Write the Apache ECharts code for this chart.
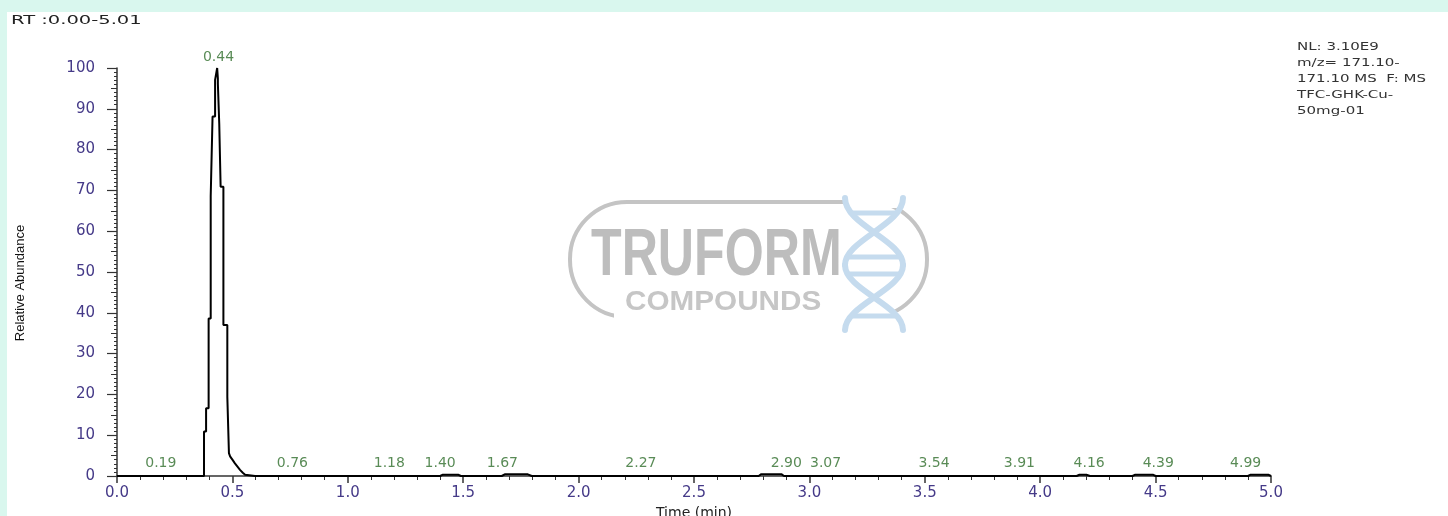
<!DOCTYPE html>
<html>
<head>
<meta charset="utf-8">
<script src="https://cdn.jsdelivr.net/npm/echarts@6/dist/echarts.min.js"></script>
<style>
  html, body { margin: 0; padding: 0; background: #d9f7ee; overflow: hidden; }
  #paper { position: absolute; left: 7px; top: 12px; width: 1441px; height: 504px; background: #ffffff; }
  #chart { position: absolute; left: 0; top: 0; width: 1448px; height: 516px; }
</style>
</head>
<body>
<div id="paper"></div>
<div id="chart"></div>
<script>
// ---- data (trace corners: time in min, relative abundance in %) ----
const traceTimes  = [0, 0.377, 0.377, 0.386, 0.386, 0.397, 0.397, 0.406, 0.406, 0.414, 0.414, 0.425, 0.425, 0.432, 0.434, 0.437, 0.437, 0.443, 0.443, 0.449, 0.449, 0.461, 0.461, 0.478, 0.478, 0.485, 0.485, 0.490, 0.500, 0.511, 0.522, 0.533, 0.545, 0.555, 0.598,
                     1.400, 1.410, 1.480, 1.490, 1.667, 1.680, 1.780, 1.797, 2.780, 2.790, 2.880, 2.890, 4.158, 4.170, 4.200, 4.216, 4.400, 4.410, 4.490, 4.500, 4.900, 4.910, 4.990, 4.996, 5.000];
const traceValues = [0, 0, 10.9, 10.9, 16.6, 16.6, 38.6, 38.6, 68.5, 68.5, 88.1, 88.1, 97.1, 97.1, 100, 97.5, 96.2, 96.2, 86.4, 86.4, 70.9, 70.9, 37.0, 37.0, 19.4, 19.4, 5.6, 4.8, 4.0, 3.1, 2.3, 1.5, 0.8, 0.3, 0,
                     0, 0.3, 0.3, 0, 0, 0.4, 0.4, 0, 0, 0.4, 0.4, 0, 0, 0.3, 0.3, 0, 0, 0.3, 0.3, 0, 0, 0.3, 0.3, 0, 0];
const peakTimes   = [0.19, 0.44, 0.76, 1.18, 1.40, 1.67, 2.27, 2.90, 3.07, 3.54, 3.91, 4.16, 4.39, 4.99];
const peakHeights = [0.3, 100, 0.3, 0.3, 0.4, 0.5, 0.3, 0.5, 0.3, 0.3, 0.3, 0.4, 0.4, 0.4];
const headerText  = 'RT :0.00-5.01';
const infoLines   = ['NL: 3.10E9', 'm/z= 171.10-', '171.10 MS  F: MS', 'TFC-GHK-Cu-', '50mg-01'];
const xAxisName   = 'Time (min)';
const yAxisName   = 'Relative Abundance';
const logoTitle   = 'TRUFORM';
const logoSub     = 'COMPOUNDS';

// ---- styling ----
const tickColor  = '#453a88';
const peakColor  = '#2f6e2c';
const axisColor  = '#333333';
const labelShift = { 11: 12, 12: 28, 13: -23 };   // crowded labels pushed sideways, as in the reference
const logoGray = '#c4c4c4';
const helixBlue = '#c5dbee';

const chart = echarts.init(document.getElementById('chart'), null, { renderer: 'canvas', width: 1448, height: 516 });

const traceData = traceTimes.map((t, i) => [t, traceValues[i]]);
const peakData = peakTimes.map((t, i) => ({
  value: [t, peakHeights[i]],
  label: { offset: [labelShift[i] || 0, 0] }
}));

const helixLine = { stroke: helixBlue, lineWidth: 6, fill: null, lineCap: 'round' };
const graphics = [
  { type: 'text', x: 11, y: 21, scaleX: 1.5, style: { text: headerText, font: '13px "DejaVu Sans"', fill: '#222', textVerticalAlign: 'middle' } },
  ...infoLines.map((s, i) => ({ type: 'text', x: 1297, y: 47 + i * 16, scaleX: 1.5, style: { text: s, font: '10px "DejaVu Sans"', fill: '#333', textVerticalAlign: 'middle' } })),
  { type: 'text', x: 20, y: 283, rotation: Math.PI / 2, style: { text: yAxisName, font: '13px "Liberation Sans"', fill: '#111', textAlign: 'center', textVerticalAlign: 'middle' } },
  // watermark
  { type: 'rect', z: -5, shape: { x: 570, y: 202, width: 357, height: 115, r: 57 }, style: { fill: null, stroke: logoGray, lineWidth: 4 } },
  { type: 'rect', z: -4, shape: { x: 843, y: 196, width: 60, height: 12 }, style: { fill: '#fff' } },
  { type: 'rect', z: -4, shape: { x: 614, y: 312, width: 292, height: 10 }, style: { fill: '#fff' } },
  { type: 'text', z: -3, x: 591, y: 257, scaleX: 0.76, style: { text: logoTitle, font: 'bold 66px "Liberation Sans"', fill: '#bdbdbd', textVerticalAlign: 'middle' } },
  { type: 'text', z: -3, x: 625, y: 302, scaleX: 1.06, style: { text: logoSub, font: 'bold 28px "Liberation Sans"', fill: '#c6c6c6', textVerticalAlign: 'middle' } },
  { type: 'bezierCurve', z: -2, shape: { x1: 845, y1: 198, cpx1: 845, cpy1: 225, cpx2: 903, cpy2: 240, x2: 903, y2: 265 }, style: helixLine },
  { type: 'bezierCurve', z: -2, shape: { x1: 903, y1: 265, cpx1: 903, cpy1: 290, cpx2: 845, cpy2: 305, x2: 845, y2: 330 }, style: helixLine },
  { type: 'bezierCurve', z: -2, shape: { x1: 903, y1: 198, cpx1: 903, cpy1: 225, cpx2: 845, cpy2: 240, x2: 845, y2: 265 }, style: helixLine },
  { type: 'bezierCurve', z: -2, shape: { x1: 845, y1: 265, cpx1: 845, cpy1: 290, cpx2: 903, cpy2: 305, x2: 903, y2: 330 }, style: helixLine },
  { type: 'line', z: -2, shape: { x1: 853, y1: 213, x2: 895, y2: 213 }, style: { stroke: helixBlue, lineWidth: 5 } },
  { type: 'line', z: -2, shape: { x1: 849, y1: 257, x2: 899, y2: 257 }, style: { stroke: helixBlue, lineWidth: 5 } },
  { type: 'line', z: -2, shape: { x1: 849, y1: 274, x2: 899, y2: 274 }, style: { stroke: helixBlue, lineWidth: 5 } },
  { type: 'line', z: -2, shape: { x1: 853, y1: 316, x2: 895, y2: 316 }, style: { stroke: helixBlue, lineWidth: 5 } }
];

const option = {
  backgroundColor: 'transparent',
  animation: false,
  textStyle: { fontFamily: '"DejaVu Sans"' },
  grid: { left: 117, right: 177, top: 68, bottom: 40, containLabel: false, outerBoundsMode: 'none' },
  graphic: { elements: graphics },
  xAxis: {
    type: 'value', min: 0, max: 5, interval: 0.5,
    name: xAxisName, nameLocation: 'middle', nameGap: 29,
    nameTextStyle: { fontSize: 14, color: '#222', fontFamily: '"DejaVu Sans"' },
    axisLine: { show: true, onZero: false, lineStyle: { color: axisColor, width: 1.5 } },
    axisTick: { show: true, length: 7, lineStyle: { color: axisColor, width: 1.5 } },
    minorTick: { show: true, splitNumber: 5, length: 4, lineStyle: { color: axisColor } },
    axisLabel: { margin: 10, fontSize: 15, color: tickColor, formatter: v => v.toFixed(1) },
    splitLine: { show: false }
  },
  yAxis: [
    {
      type: 'value', min: 0, max: 100, interval: 10,
      axisLine: { show: true, onZero: false, lineStyle: { color: axisColor, width: 1.5 } },
      axisTick: { show: true, length: 10, lineStyle: { color: axisColor, width: 1.2 } },
      minorTick: { show: true, splitNumber: 10, length: 3, lineStyle: { color: axisColor } },
      axisLabel: { margin: 22, fontSize: 15, color: tickColor },
      splitLine: { show: false }
    },
    {
      type: 'value', min: 0, max: 100, interval: 5, position: 'left',
      axisLine: { show: false },
      axisTick: { show: true, length: 6, lineStyle: { color: axisColor } },
      axisLabel: { show: false },
      splitLine: { show: false }
    }
  ],
  series: [
    {
      type: 'line', data: traceData, showSymbol: false, clip: true,
      lineStyle: { color: '#000', width: 2 }, z: 5
    },
    {
      type: 'scatter', data: peakData, symbolSize: 0, z: 6,
      label: { show: true, position: 'top', distance: 4, color: peakColor, fontSize: 14, fontFamily: '"DejaVu Sans"', formatter: p => p.value[0].toFixed(2) }
    }
  ]
};
chart.setOption(option);
</script>
</body>
</html>
